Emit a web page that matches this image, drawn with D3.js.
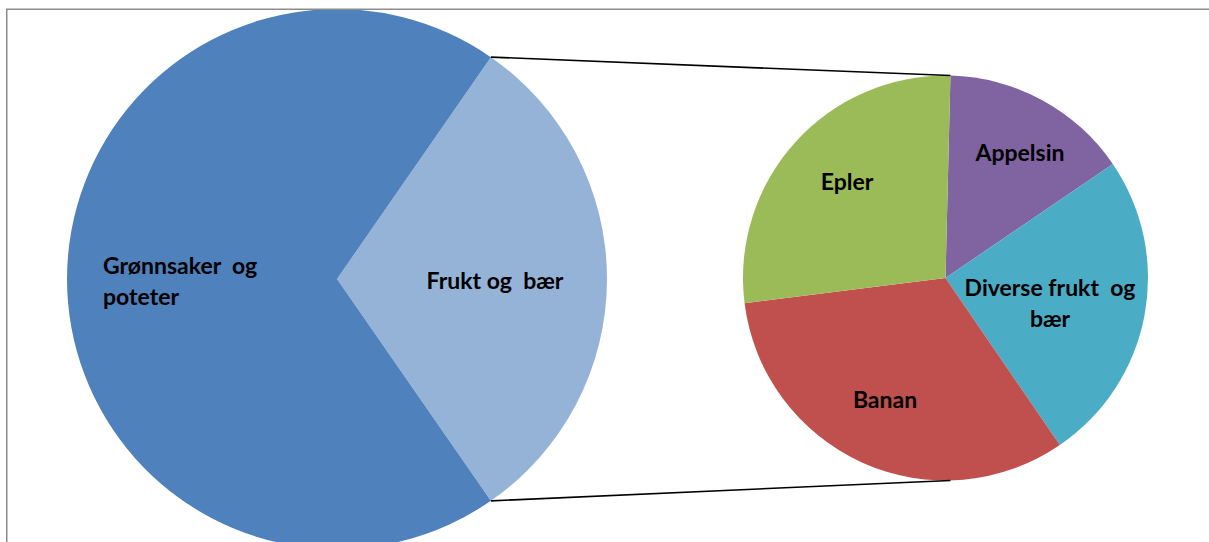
<!DOCTYPE html>
<html>
<head>
<meta charset="utf-8">
<script src="https://cdn.jsdelivr.net/npm/d3@7"></script>
<style>
  html, body { margin: 0; padding: 0; background: #fff; }
  svg { display: block; }
  text { font-family: Lato, "Open Sans", sans-serif; font-weight: bold; fill: #000; }
</style>
</head>
<body>
<svg id="chart" width="1209" height="542"></svg>
<script>
// Primary pie
const mainCategories = ["Frukt og bær", "Grønnsaker og poteter"];
const mainValues = [30.7, 69.3];
const mainColors = ["#95B3D7", "#4F81BD"];

// Secondary pie (breakdown of "Frukt og bær")
const subCategories = ["Appelsin", "Diverse frukt og bær", "Banan", "Epler"];
const subValues = [15.1, 25.0, 32.6, 27.4];
const subColors = ["#8064A2", "#4BACC6", "#C0504D", "#9BBB59"];
const subStartDeg = 1.4;

const svg = d3.select("#chart");
const W = 1209, H = 542;

// chart frame
svg.append("rect")
  .attr("x", 6.75).attr("y", 9.25)
  .attr("width", W + 20).attr("height", H + 20)
  .attr("fill", "#fff").attr("stroke", "#8c8c8c").attr("stroke-width", 1.5);

const clip = svg.append("defs").append("clipPath").attr("id", "plotclip");
clip.append("rect").attr("x", 7.5).attr("y", 10).attr("width", W).attr("height", H);

const g = svg.append("g").attr("clip-path", "url(#plotclip)");

// Main pie
const mc = { x: 337, y: 279 }, mr = 270;
const fruktSpan = 2 * Math.PI * mainValues[0] / d3.sum(mainValues);
const mainPie = d3.pie().sort(null).value(d => d)
  .startAngle(Math.PI / 2 - fruktSpan / 2)
  .endAngle(Math.PI / 2 - fruktSpan / 2 + 2 * Math.PI);
const mainArcs = mainPie(mainValues);
const mainArc = d3.arc().innerRadius(0).outerRadius(mr);
const mg = g.append("g").attr("transform", `translate(${mc.x},${mc.y})`);
mg.selectAll("path").data(mainArcs).join("path")
  .attr("d", mainArc).attr("fill", (d, i) => mainColors[i]);

// Secondary pie
const sc = { x: 945.5, y: 278 }, sr = 202.5;
const a0 = subStartDeg * Math.PI / 180;
const subPie = d3.pie().sort(null).value(d => d)
  .startAngle(a0).endAngle(a0 + 2 * Math.PI);
const subArcs = subPie(subValues);
const subArc = d3.arc().innerRadius(0).outerRadius(sr);
const sg = g.append("g").attr("transform", `translate(${sc.x},${sc.y})`);
sg.selectAll("path").data(subArcs).join("path")
  .attr("d", subArc).attr("fill", (d, i) => subColors[i]);

// connector lines
const pt = (c, r, a) => [c.x + r * Math.sin(a), c.y - r * Math.cos(a)];
const fa = mainArcs[0];
const lines = [
  [pt(mc, mr, fa.startAngle), pt(sc, sr, a0)],
  [pt(mc, mr, fa.endAngle), pt(sc, sr, Math.PI - a0)]
];
g.selectAll("line.conn").data(lines).join("line")
  .attr("class", "conn")
  .attr("x1", d => d[0][0]).attr("y1", d => d[0][1])
  .attr("x2", d => d[1][0]).attr("y2", d => d[1][1])
  .attr("stroke", "#000").attr("stroke-width", 1.6);

// labels
const fs = 23;
function label(x, y, lines, anchor) {
  const t = g.append("text").attr("font-size", fs).attr("text-anchor", anchor || "middle");
  lines.forEach((l, i) => {
    t.append("tspan").attr("x", x).attr("y", y + i * 31).attr("xml:space", "preserve").text(l);
  });
}
label(103, 274, ["Grønnsaker  og", "poteter"], "start");
label(495, 289, ["Frukt og  bær"]);
label(847, 190, ["Epler"]);
label(1020, 161, ["Appelsin"]);
label(1050, 296, ["Diverse frukt  og", "bær"]);
label(885, 408, ["Banan"]);
</script>
</body>
</html>
